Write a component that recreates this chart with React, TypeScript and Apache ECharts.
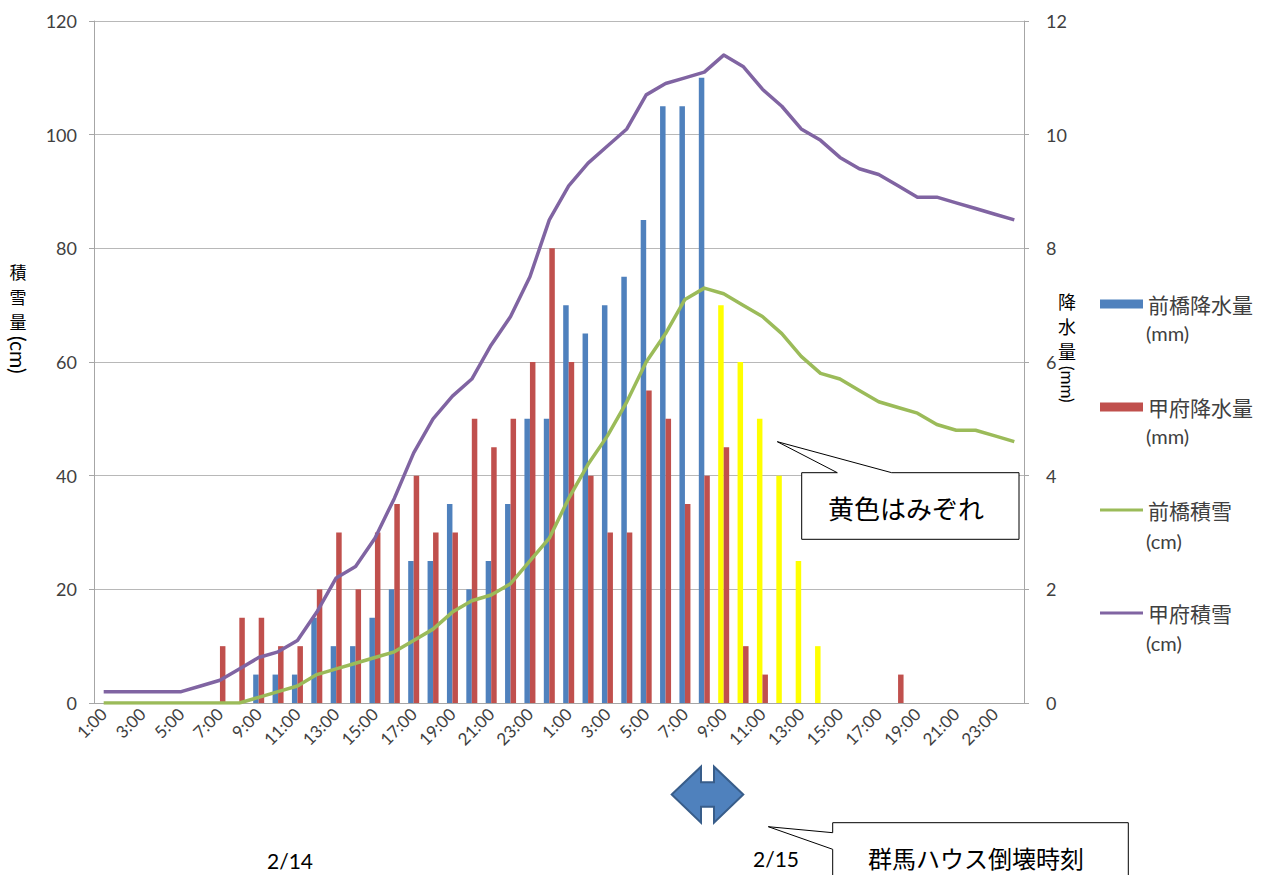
import React, { useEffect, useRef } from "react";
import * as echarts from "echarts";

const dayHours = [
  "1:00", "2:00", "3:00", "4:00", "5:00", "6:00", "7:00", "8:00",
  "9:00", "10:00", "11:00", "12:00", "13:00", "14:00", "15:00", "16:00",
  "17:00", "18:00", "19:00", "20:00", "21:00", "22:00", "23:00", "24:00",
];
const categories = [...dayHours, ...dayHours];
const dayLabels = ["2/14", "2/15"];

// precipitation (mm), right axis
const maebashiPrecip = [
  0, 0, 0, 0, 0, 0, 0, 0, 0.5, 0.5, 0.5, 1.5, 1.0, 1.0, 1.5, 2.0,
  2.5, 2.5, 3.5, 2.0, 2.5, 3.5, 5.0, 5.0, 7.0, 6.5, 7.0, 7.5, 8.5, 10.5, 10.5, 11.0,
  7.0, 6.0, 5.0, 4.0, 2.5, 1.0, 0, 0, 0, 0, 0, 0, 0, 0, 0, 0,
];
// hours where Maebashi precipitation was sleet (drawn yellow)
const maebashiSleetIdx = [32, 33, 34, 35, 36, 37];
const kofuPrecip = [
  0, 0, 0, 0, 0, 0, 1.0, 1.5, 1.5, 1.0, 1.0, 2.0, 3.0, 2.0, 3.0, 3.5,
  4.0, 3.0, 3.0, 5.0, 4.5, 5.0, 6.0, 8.0, 6.0, 4.0, 3.0, 3.0, 5.5, 5.0, 3.5, 4.0,
  4.5, 1.0, 0.5, 0, 0, 0, 0, 0, 0, 0.5, 0, 0, 0, 0, 0, 0,
];
// snow depth (cm), left axis
const maebashiSnow = [
  0, 0, 0, 0, 0, 0, 0, 0, 1, 2, 3, 5, 6, 7, 8, 9,
  11, 13, 16, 18, 19, 21, 25, 29, 36, 42, 47, 53, 60, 65, 71, 73,
  72, 70, 68, 65, 61, 58, 57, 55, 53, 52, 51, 49, 48, 48, 47, 46,
];
const kofuSnow = [
  2, 2, 2, 2, 2, 3, 4, 6, 8, 9, 11, 16, 22, 24, 29, 36,
  44, 50, 54, 57, 63, 68, 75, 85, 91, 95, 98, 101, 107, 109, 110, 111,
  114, 112, 108, 105, 101, 99, 96, 94, 93, 91, 89, 89, 88, 87, 86, 85,
];

const seriesNames = ["前橋降水量(mm)", "甲府降水量(mm)", "前橋積雪(cm)", "甲府積雪(cm)"];
const leftTicks = [0, 120, 20];
const rightTicks = [0, 12, 2];

const LATIN = "Lato, 'Noto Sans CJK JP', sans-serif";
const CJK = "'Noto Sans CJK JP', sans-serif";
const TEXT = "#404040";
const GRID = "#B8B8B8";
const AXIS = "#A6A6A6";
const LINE_ICON = "path://M0,0L43,0L43,3.2L0,3.2Z";

export default function App() {
  const ref = useRef<HTMLDivElement>(null);
  useEffect(() => {
    if (!ref.current) return;
    const chart = echarts.init(ref.current, null, { renderer: "svg" });

    const maebashiData = maebashiPrecip.map((v, i) =>
      maebashiSleetIdx.includes(i) ? { value: v, itemStyle: { color: "#FFFF00" } } : v
    );

    const unitTexts = [
      { y: 333, t: "(mm)" },
      { y: 436, t: "(mm)" },
      { y: 541, t: "(cm)" },
      { y: 643, t: "(cm)" },
    ].map((u) => ({
      type: "text",
      x: 1146,
      y: u.y,
      style: { text: u.t, font: `20px ${LATIN}`, fill: TEXT, align: "left", verticalAlign: "middle" },
    }));

    const vChar = (ch: string, x: number, y: number, size: number) => ({
      type: "text",
      x,
      y,
      style: { text: ch, font: `${size}px ${CJK}`, fill: "#000", align: "center", verticalAlign: "middle" },
    });

    const arrow = [
      [671.7, 794.5], [701, 766.7], [701, 782.3], [714, 782.3], [714, 766.7],
      [743.3, 794.5], [714, 822.7], [714, 806.7], [701, 806.7], [701, 822.7],
    ];

    const option: any = {
      animation: false,
      backgroundColor: "#fff",
      grid: { left: 94, right: 242, top: 21, bottom: 172 },
      legend: {
        orient: "vertical",
        left: 1095,
        top: 287,
        itemWidth: 43,
        itemHeight: 9,
        itemGap: 79,
        data: [
          { name: seriesNames[0], icon: "rect" },
          { name: seriesNames[1], icon: "rect" },
          { name: seriesNames[2], icon: LINE_ICON },
          { name: seriesNames[3], icon: LINE_ICON },
        ],
        formatter: (n: string) => n.replace(/\(.*\)$/, ""),
        textStyle: { fontSize: 21, fontFamily: CJK, color: TEXT, lineHeight: 24 },
        selectedMode: false,
      },
      xAxis: {
        type: "category",
        data: categories,
        boundaryGap: true,
        axisLine: { lineStyle: { color: AXIS } },
        axisTick: { show: false },
        axisLabel: { interval: 1, rotate: 45, fontSize: 17, fontFamily: LATIN, color: TEXT, margin: 8 },
      },
      yAxis: [
        {
          type: "value",
          min: leftTicks[0],
          max: leftTicks[1],
          interval: leftTicks[2],
          axisLine: { show: true, lineStyle: { color: AXIS } },
          axisTick: { show: true, length: 5, lineStyle: { color: AXIS } },
          axisLabel: { fontSize: 18, fontFamily: LATIN, color: TEXT, margin: 17 },
          splitLine: { lineStyle: { color: GRID } },
        },
        {
          type: "value",
          position: "right",
          min: rightTicks[0],
          max: rightTicks[1],
          interval: rightTicks[2],
          axisLine: { show: true, lineStyle: { color: AXIS } },
          axisTick: { show: true, length: 5, lineStyle: { color: AXIS } },
          axisLabel: { fontSize: 18, fontFamily: LATIN, color: TEXT, margin: 22 },
          splitLine: { show: false },
        },
      ],
      series: [
        {
          name: seriesNames[0],
          type: "bar",
          yAxisIndex: 1,
          barWidth: 5.5,
          barGap: "0%",
          itemStyle: { color: "#4F81BD" },
          data: maebashiData,
        },
        {
          name: seriesNames[1],
          type: "bar",
          yAxisIndex: 1,
          barWidth: 5.5,
          barGap: "0%",
          itemStyle: { color: "#C0504D" },
          data: kofuPrecip,
        },
        {
          name: seriesNames[2],
          type: "line",
          yAxisIndex: 0,
          symbol: "none",
          showSymbol: false,
          itemStyle: { color: "#9BBB59" },
          lineStyle: { width: 3.5, color: "#9BBB59", join: "round" },
          data: maebashiSnow,
          z: 3,
        },
        {
          name: seriesNames[3],
          type: "line",
          yAxisIndex: 0,
          symbol: "none",
          showSymbol: false,
          itemStyle: { color: "#8064A2" },
          lineStyle: { width: 3.5, color: "#8064A2", join: "round" },
          data: kofuSnow,
          z: 3,
        },
      ],
      graphic: [
        // left axis title (vertical)
        vChar("積", 18, 271, 17),
        vChar("雪", 18, 296, 17),
        vChar("量", 18, 321, 17),
        {
          type: "text",
          x: 18,
          y: 336,
          rotation: -Math.PI / 2,
          style: { text: "(cm)", font: `21px ${LATIN}`, fill: "#000", align: "left", verticalAlign: "middle" },
        },
        // right axis title (vertical)
        vChar("降", 1067, 301, 18),
        vChar("水", 1067, 326, 18),
        vChar("量", 1067, 351, 18),
        {
          type: "text",
          x: 1067,
          y: 366,
          rotation: -Math.PI / 2,
          style: { text: "(mm)", font: `17px ${LATIN}`, fill: "#000", align: "left", verticalAlign: "middle" },
        },
        ...unitTexts,
        // date labels
        {
          type: "text",
          x: 290,
          y: 860,
          style: { text: dayLabels[0], font: `21px ${LATIN}`, fill: "#000", align: "center", verticalAlign: "middle" },
        },
        {
          type: "text",
          x: 776,
          y: 858,
          style: { text: dayLabels[1], font: `21px ${LATIN}`, fill: "#000", align: "center", verticalAlign: "middle" },
        },
        // double arrow
        {
          type: "polygon",
          shape: { points: arrow },
          style: { fill: "#4F81BD", stroke: "#385D8A", lineWidth: 2 },
        },
        // callout: sleet
        {
          type: "polygon",
          shape: {
            points: [
              [801.7, 472.7], [837.3, 472.7], [777.3, 441.7], [891.7, 472.7],
              [1019, 472.7], [1019, 539.3], [801.7, 539.3],
            ],
          },
          style: { fill: "#fff", stroke: "#000", lineWidth: 1 },
          z: 10,
        },
        {
          type: "text",
          x: 906,
          y: 507,
          z: 11,
          style: { text: "黄色はみぞれ", font: `26px ${CJK}`, fill: "#000", align: "center", verticalAlign: "middle" },
        },
        // callout: collapse time
        {
          type: "polygon",
          shape: {
            points: [
              [832.7, 822.7], [1128.3, 822.7], [1128.3, 885], [832.7, 885],
              [832.7, 849.3], [768.3, 826.7], [832.7, 832.7],
            ],
          },
          style: { fill: "#fff", stroke: "#000", lineWidth: 1 },
          z: 10,
        },
        {
          type: "text",
          x: 976,
          y: 857,
          z: 11,
          style: { text: "群馬ハウス倒壊時刻", font: `24px ${CJK}`, fill: "#000", align: "center", verticalAlign: "middle" },
        },
      ],
    };
    chart.setOption(option);
    return () => chart.dispose();
  }, []);
  return <div ref={ref} style={{ position: "absolute", left: 0, top: 0, width: 1266, height: 875 }} />;
}
